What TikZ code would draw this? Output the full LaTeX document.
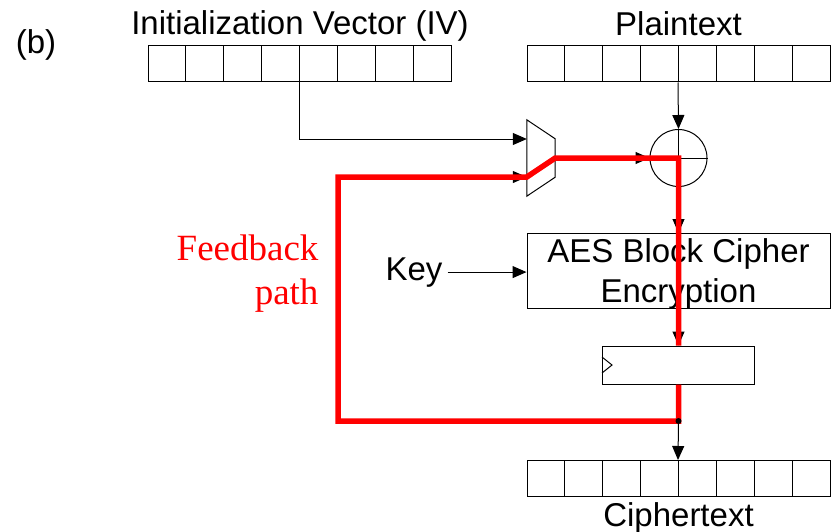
\documentclass[tikz,border=0pt]{standalone}
\usepackage{fontspec}
\setmainfont{Liberation Sans}
\newfontfamily\serifred{Liberation Serif}
\usepackage{tikz}
\usetikzlibrary{arrows.meta, positioning}
\definecolor{fbred}{RGB}{255,0,0}

\begin{document}
\begin{tikzpicture}[x=1pt, y=-1pt, font=\fontsize{33}{40}\selectfont,
    cell/.style={draw, minimum width=37.875pt, minimum height=36pt, inner sep=0pt, line width=1pt},
    blk/.style={draw, line width=1pt, inner sep=0pt},
    arr/.style={-{Triangle[length=14pt, width=12pt]}, line width=1pt},
    fb/.style={line width=5.5pt, fbred, line join=miter}]
  \useasboundingbox (0,0) rectangle (832,532);
  \node[anchor=base] (tag) at (36,54) {(b)};
  % registers
  \foreach \i in {1,...,8} {
    \node[cell] (iv\i) at ({148+37.875*(\i-0.5)},64) {};
    \node[cell] (pt\i) at ({527+37.875*(\i-0.5)},64) {};
    \node[cell] (ct\i) at ({527+37.875*(\i-0.5)},478.5) {};
  }
  \node[anchor=base] (ivlbl) at (300,35) {Initialization Vector (IV)};
  \node[anchor=base] (ptlbl) at (678.5,36) {Plaintext};
  \node[anchor=base] (ctlbl) at (678.5,526) {Ciphertext};
  % mux
  \node[minimum width=28pt, minimum height=76pt, inner sep=0pt] (mux) at (541,158) {};
  \draw[line width=1pt] (mux.north west) -- ([yshift=-19pt]mux.north east)
    -- ([yshift=19pt]mux.south east) -- (mux.south west) -- cycle;
  \coordinate (muxa) at ([yshift=19pt]mux.west);
  \coordinate (muxb) at ([yshift=-19pt]mux.west);
  % xor
  \node[draw, circle, minimum size=57pt, inner sep=0pt, line width=1pt] (xor) at (678.5,158) {};
  \draw[line width=1pt] (xor.north) -- (xor.south) (xor.west) -- (xor.east);
  % cipher and register
  \node[blk, minimum width=303pt, minimum height=75pt, align=center, text depth=0pt] (aes) at (678.5,271) {AES Block Cipher\\Encryption};
  \node[anchor=base, inner sep=5pt] (key) at (414,280) {Key};
  \node[blk, minimum width=152pt, minimum height=38pt] (reg) at (678.5,365) {};
  \draw[line width=1pt] ([yshift=8pt]reg.west) -- ++(10pt,-8pt) -- ++(-10pt,-8pt);
  \coordinate (tap) at (678.5,421);
  \coordinate (fbc) at (338,421);
  \node[anchor=east, align=right, text=fbred, font=\serifred\fontsize{37}{44}\selectfont] (fblbl) at (322,274) {Feedback\\path};
  % connectors
  \draw[arr] (iv5.south west) |- (muxa);
  \draw[arr] (pt5.south west) -- (xor.north);
  \draw[arr] (xor.south) -- (aes.north);
  \draw[arr] (aes.south) -- (reg.north);
  \draw[arr] (key.east) -- (key.east -| aes.west);
  \draw[arr] (fbc) |- (muxb);
  \draw[arr] (mux.east) -- (xor.west);
  \draw[line width=1pt] (reg.south) -- (tap);
  \draw[arr] (tap) -- (ct5.north west);
  % feedback path
  \draw[fb] (reg.south) -- (tap) -- (fbc) |- (muxb) -- (mux.east) -- (xor.center) -- (reg.north);
  \fill (tap) circle (3pt);
\end{tikzpicture}
\end{document}
